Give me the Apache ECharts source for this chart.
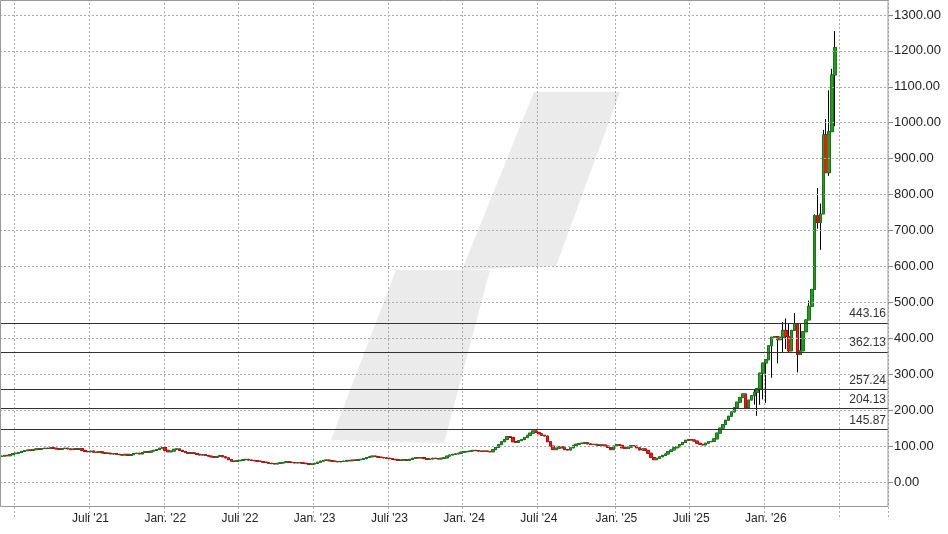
<!DOCTYPE html>
<html><head><meta charset="utf-8">
<script src="https://cdn.jsdelivr.net/npm/echarts@6/dist/echarts.min.js"></script>
<style>html,body{margin:0;padding:0;background:#fff;overflow:hidden}#c{width:948px;height:555px;margin-top:-21px}</style>
</head><body><div id="c"></div>
<script>
// weekly closes, starting week of 2020-11-30
const closes = [
72,74,73,
76,79,80,82, 85,87,89,88, 90,92,91,93,94, 93,95,94,92, 91,93,94,92, 90,92,91,93,88,
85,84,86,83, 82,84,81,80, 80,78,79,77,76, 75,77,74,76, 79,80,78,82, 84,83,86,88,90,
94,96,88,84, 86,91,92,88, 85,82,80,81,79, 77,75,76,74, 72,70,69,71,73, 70,67,62,58,
57,59,60,62, 63,61,60,59,58, 57,55,54,52, 51,50,52,53,54, 56,55,54,53, 54,53,52,51,
49,50,52,55,58, 60,61,59,58, 57,56,57,58, 60,59,61,60,62, 63,65,68,70, 72,71,69,68,
67,66,65,63,62, 60,61,62,60, 63,66,68,67, 68,65,63,64,66, 65,64,66,67, 72,75,77,78,
80,83,84,85,86, 88,87,86,85, 86,85,84,90, 96,104,112,118,126, 124,112,110,115, 118,124,130,136,142,
138,134,130,128, 112,100,90,94, 98,95,90,89,95, 102,105,107,108, 109,106,104,105, 103,102,103,100,96,
90,100,104,102, 95,93,97,101, 100,95,89,92,88, 80,68,62,66, 70,74,78,85,89, 95,98,104,110,
116,118,117,114, 108,105,103,108,112, 113,120,136,150, 160,172,183,195,207, 222,235,245,207, 228,240,250,260,
303,331,340,379,403, 405,396,403,422, 405,365,422,441, 355,365,418,451,489, 536,741,722,746, 966,861,975,1133,1209
];
// notable wick extremes: [index from end, high, low]
const wicks = [
[0,1255,990],[1,1150,1010],[2,1090,852],[3,1010,860],[4,980,815],
[5,775,646],[6,818,705],[7,745,550],[9,505,470],[12,440,380],[13,420,305],
[14,470,420],[16,440,362],[17,455,370],[18,445,360],[20,380,330],[22,320,290],
[24,265,220],[25,262,230],[26,255,215],[27,230,184],[28,258,215]
];
const yTicks = [0,100,200,300,400,500,600,700,800,900,1000,1100,1200,1300];
const levels = [443.16,362.13,257.24,204.13,145.87];
const padWeeks = 18;

const cats = [];
const start = Date.UTC(2020,10,30);
for (let i=0;i<closes.length+padWeeks;i++){
  const d=new Date(start+i*7*86400000);
  cats.push(d.toISOString().slice(0,10));
}
const wickMap = {};
wicks.forEach(w=>{wickMap[closes.length-1-w[0]]=[w[1],w[2]];});
const full=[], body=[];
for (let i=0;i<closes.length;i++){
  const o = i===0?71:closes[i-1], c=closes[i];
  let hi=Math.max(o,c), lo=Math.min(o,c);
  if (wickMap[i]){hi=Math.max(hi,wickMap[i][0]);lo=Math.min(lo,wickMap[i][1]);}
  full.push([o,c,lo,hi]);
  body.push([o,c,Math.min(o,c),Math.max(o,c)]);
}
function isHalfStart(i){
  if(i===0) return false;
  const m=cats[i].slice(5,7), pm=cats[i-1].slice(5,7);
  return m!==pm && (m==='01'||m==='07');
}
function showLabel(i){
  const y=cats[i].slice(0,4);
  return isHalfStart(i) && !(y==='2021'&&cats[i].slice(5,7)==='01') && !(y==='2026'&&cats[i].slice(5,7)==='07');
}
const G='#1f9e1f', R='#ff1010';
const OY=21;
const chart=echarts.init(document.getElementById('c'));
chart.setOption({
  animation:false,
  grid:{left:0,right:60,top:0,bottom:16.1},
  graphic:[
    {type:'polygon',z:-10,silent:true,shape:{points:[[331,440+OY],[396,270+OY],[490,270+OY],[444,443+OY]]},style:{fill:'#ebebeb'}},
    {type:'polygon',z:-10,silent:true,shape:{points:[[462,270+OY],[534,92+OY],[620,92+OY],[556,266+OY]]},style:{fill:'#ebebeb'}},
    {type:'rect',z:50,silent:true,shape:{x:0.5,y:0.5+OY,width:887.5,height:506},style:{fill:'none',stroke:'#999',lineWidth:1}}
  ],
  xAxis:{type:'category',data:cats,offset:-12,boundaryGap:true,
    axisLine:{show:false},axisTick:{show:false},
    axisLabel:{interval:(i)=>showLabel(i),
      margin:7,fontSize:12,color:'#222',fontFamily:'Liberation Sans',
      formatter:(v)=>{const y=v.slice(2,4),m=v.slice(5,7);return (m==='01'?'Jan. ':'Juli ')+"'"+y;}},
    splitLine:{show:true,interval:(i)=>isHalfStart(i),lineStyle:{color:'#aaa',type:[2,2]}}
  },
  yAxis:{type:'value',position:'right',min:-100,max:1400,interval:100,
    axisLine:{show:false},splitLine:{show:false},
    axisTick:{show:true,length:5,customValues:yTicks,lineStyle:{color:'#888'}},
    axisLabel:{customValues:yTicks,margin:6,fontSize:13,color:'#222',fontFamily:'Liberation Sans',
      formatter:(v)=>(v<0||v>1300)?'':v.toFixed(2)}
  },
  series:[
    {type:'line',data:[],silent:true,
      markLine:{silent:true,symbol:'none',label:{show:false},animation:false,
        lineStyle:{color:'#aaa',type:[2,2],width:1},data:yTicks.map(v=>({yAxis:v}))}},
    {type:'candlestick',data:full,barWidth:3,z:3,
      itemStyle:{color:'#000',color0:'#000',borderColor:'#000',borderColor0:'#000',borderWidth:1}},
    {type:'candlestick',data:body,barWidth:3,z:4,
      itemStyle:{color:G,color0:R,borderColor:G,borderColor0:R,borderWidth:0.5},
      markLine:{silent:true,symbol:'none',animation:false,
        label:{show:true,position:'insideEndTop',formatter:(p)=>p.value.toFixed(2),color:'#333',fontSize:12,fontFamily:'Liberation Sans',distance:[2,3]},
        lineStyle:{color:'#333',type:'solid',width:1},data:levels.map(v=>({yAxis:v}))}}
  ]
});
</script></body></html>
